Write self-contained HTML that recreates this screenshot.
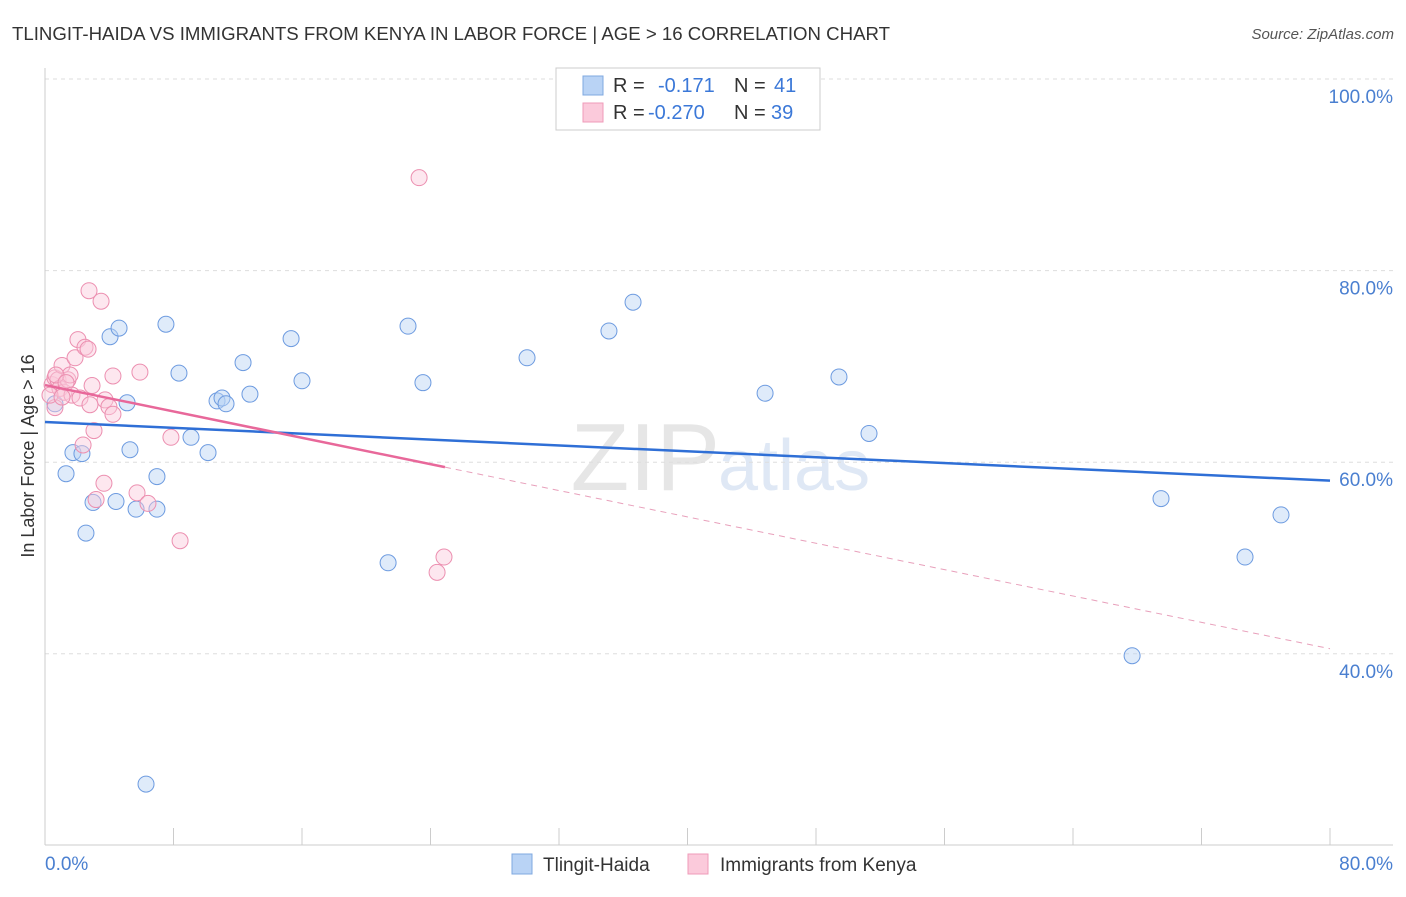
<!DOCTYPE html>
<html><head><meta charset="utf-8"><style>
body{margin:0;background:#fff;font-family:"Liberation Sans",sans-serif;}
svg text{font-family:"Liberation Sans",sans-serif;}
</style></head><body>
<svg id="c" width="1406" height="892">
<text x="12" y="40" font-size="18" fill="#333" textLength="878" lengthAdjust="spacingAndGlyphs">TLINGIT-HAIDA VS IMMIGRANTS FROM KENYA IN LABOR FORCE | AGE &gt; 16 CORRELATION CHART</text>
<text x="1394" y="39" font-size="15" fill="#555" font-style="italic" text-anchor="end">Source: ZipAtlas.com</text>
<text x="720" y="490" font-size="96" fill="#e6e6e6" font-family="Liberation Serif" text-anchor="end">ZIP</text>
<text x="718" y="490" font-size="72" fill="#dfe8f5">atlas</text>
<g id="grid"></g>
<g id="axes"></g>
<g id="marks"></g>
<text transform="translate(34,456) rotate(-90)" font-size="18" fill="#333" text-anchor="middle">In Labor Force | Age &gt; 16</text>
<text x="45" y="870" font-size="19" fill="#4a7fd0">0.0%</text>
<text x="1393" y="870" font-size="19" fill="#4a7fd0" text-anchor="end">80.0%</text>
<g>
<rect x="556" y="68" width="264" height="62" fill="#fff" stroke="#ccc"/>
<rect x="583" y="76" width="20" height="19" fill="#b9d3f5" stroke="#7fa8e0"/>
<rect x="583" y="103" width="20" height="19" fill="#fbcadb" stroke="#ef9bb8"/>
<text x="613" y="92" font-size="20" fill="#333">R = </text><text x="658" y="92" font-size="20" fill="#3b78d8">-0.171</text>
<text x="734" y="92" font-size="20" fill="#333">N = </text><text x="774" y="92" font-size="20" fill="#3b78d8">41</text>
<text x="613" y="119" font-size="20" fill="#333">R = </text><text x="648" y="119" font-size="20" fill="#3b78d8">-0.270</text>
<text x="734" y="119" font-size="20" fill="#333">N = </text><text x="771" y="119" font-size="20" fill="#3b78d8">39</text>
</g>
<g>
<rect x="512" y="854" width="20" height="20" fill="#b9d3f5" stroke="#7fa8e0"/>
<text x="543" y="871" font-size="19" fill="#333">Tlingit-Haida</text>
<rect x="688" y="854" width="20" height="20" fill="#fbcadb" stroke="#ef9bb8"/>
<text x="720" y="871" font-size="19" fill="#333">Immigrants from Kenya</text>
</g>
</svg>
<script>
const yTicks=[100,80,60,40];
const yTickLabels=["100.0%","80.0%","60.0%","40.0%"];
const xTicks=[0,8,16,24,32,40,48,56,64,72,80];
const blueX=[0.62,1.31,1.74,2.30,2.55,2.99,4.05,4.61,4.42,5.11,5.29,5.67,6.29,6.97,6.97,7.53,8.34,9.09,10.15,10.71,11.02,11.27,12.33,12.76,15.32,16.0,21.36,22.60,23.53,30.01,35.11,36.61,44.83,49.43,51.30,67.68,69.48,74.71,76.95];
const blueY=[66.1,58.8,61.0,60.9,52.6,55.8,73.1,74.0,55.9,66.2,61.3,55.1,26.4,58.5,55.1,74.4,69.3,62.6,61.0,66.4,66.7,66.1,70.4,67.1,72.9,68.5,49.5,74.2,68.3,70.9,73.7,76.7,67.2,68.9,63.0,39.8,56.2,50.1,54.5];
const pinkX=[0.62,0.44,0.62,0.81,0.93,1.06,1.18,1.43,1.56,1.87,2.05,2.37,2.49,2.68,2.74,2.93,3.05,3.18,3.49,3.67,3.74,3.98,4.23,4.23,5.73,5.91,6.41,7.84,8.41,23.29,24.41,24.84,0.31,0.68,1.31,1.68,2.18,1.06,2.80];
const pinkY=[65.7,68.1,68.8,68.6,67.7,70.1,67.3,68.6,69.1,70.9,72.8,61.8,72.0,71.8,77.9,68.0,63.3,56.1,76.8,57.8,66.5,65.8,69.0,65.0,56.8,69.4,55.7,62.6,51.8,89.7,48.5,50.1,67.0,69.1,68.3,67.0,66.7,66.8,66.0];
const blueTrend=[64.2,-0.0766];
const pinkTrend=[68.05,-0.344];
const pinkSolidEnd=24.9;

const NS="http://www.w3.org/2000/svg";
const X=v=>45+v/80*1285;
const Y=v=>79+(100-v)*9.58;
function mk(tag,attrs,parent){const e=document.createElementNS(NS,tag);for(const k in attrs)e.setAttribute(k,attrs[k]);parent.appendChild(e);return e;}
const grid=document.getElementById('grid'),axes=document.getElementById('axes'),marks=document.getElementById('marks');
yTicks.forEach((t,i)=>{
 const l=mk('line',{x1:45,x2:1393,y1:Y(t),y2:Y(t),stroke:'#ddd','stroke-dasharray':'4,4'},grid);
 
 
 const tx=mk('text',{x:1393,y:Y(t)+24,'font-size':19,fill:'#4a7fd0','text-anchor':'end'},grid);
 tx.textContent=yTickLabels[i];
 
 
});
let a=mk('line',{x1:45,x2:45,y1:68,y2:845,stroke:'#ccc'},axes);


a=mk('line',{x1:45,x2:1393,y1:845,y2:845,stroke:'#ccc'},axes);


xTicks.forEach(t=>{
 const l=mk('line',{x1:X(t),x2:X(t),y1:828,y2:845,stroke:'#ccc'},axes);
 
 
});
function dots(xs,ys,fill,stroke,name){
 xs.forEach((x,i)=>{
  const c=mk('circle',{cx:X(x),cy:Y(ys[i]),r:8,fill:fill,'fill-opacity':0.45,stroke:stroke,'stroke-width':1},marks);
  
  
 });
}
dots(blueX,blueY,'#b9d3f5','#6d9be0','point-tlingit-haida');
dots(pinkX,pinkY,'#fbcadb','#ec8fb0','point-kenya');
const f=(t,x)=>t[0]+t[1]*x;
let ln=mk('line',{x1:X(0),y1:Y(f(blueTrend,0)),x2:X(80),y2:Y(f(blueTrend,80)),stroke:'#2f6fd6','stroke-width':2.5},marks);


ln=mk('line',{x1:X(0),y1:Y(f(pinkTrend,0)),x2:X(pinkSolidEnd),y2:Y(f(pinkTrend,pinkSolidEnd)),stroke:'#e8689a','stroke-width':2.5},marks);


ln=mk('line',{x1:X(pinkSolidEnd),y1:Y(f(pinkTrend,pinkSolidEnd)),x2:X(80),y2:Y(f(pinkTrend,80)),stroke:'#e8a0bb','stroke-width':1,'stroke-dasharray':'6,5'},marks);


</script>
</body></html>
